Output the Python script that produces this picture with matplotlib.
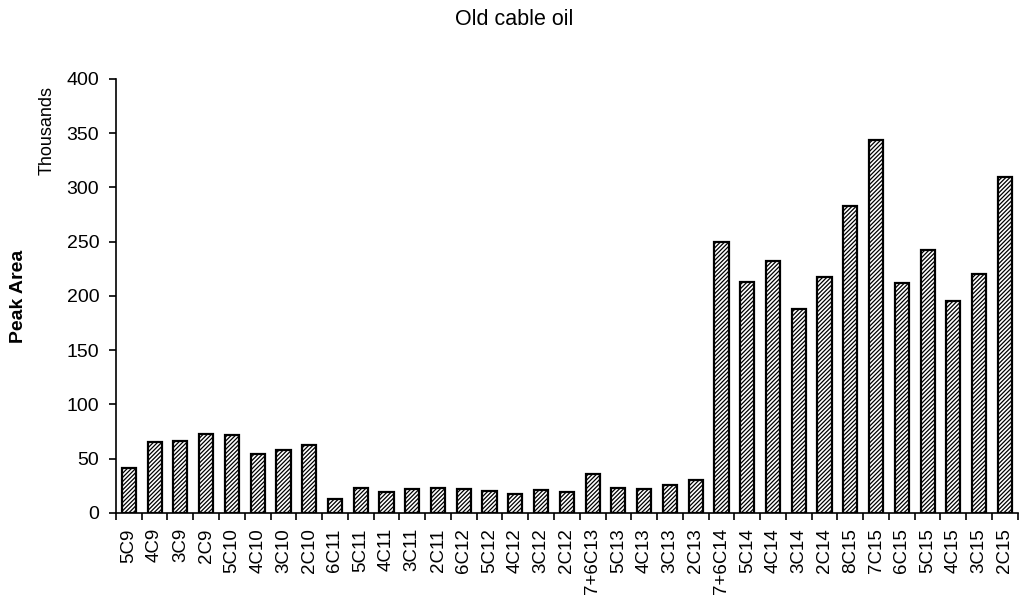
import numpy as np
import matplotlib.pyplot as plt

plt.rcParams['font.family'] = ['Liberation Sans', 'DejaVu Sans']
plt.rcParams['hatch.linewidth'] = 0.9

# --- datos ---
etiquetas = ['5C9', '4C9', '3C9', '2C9', '5C10', '4C10', '3C10', '2C10',
             '6C11', '5C11', '4C11', '3C11', '2C11',
             '6C12', '5C12', '4C12', '3C12', '2C12',
             '7+6C13', '5C13', '4C13', '3C13', '2C13',
             '7+6C14', '5C14', '4C14', '3C14', '2C14',
             '8C15', '7C15', '6C15', '5C15', '4C15', '3C15', '2C15']
valores = [41, 65, 66, 73, 72, 54, 58, 63,
           13, 23, 19, 22, 23,
           22, 20, 17, 21, 19,
           36, 23, 22, 26, 30,
           250, 213, 232, 188, 217,
           283, 344, 212, 242, 195, 220, 310]

x = np.arange(len(etiquetas))

fig = plt.figure(figsize=(10.19, 6.02), dpi=100)
ax = fig.add_axes([0.1138, 0.148, 0.885, 0.721])

ax.bar(x, valores, width=0.55, color='white', edgecolor='black',
       linewidth=1.6, hatch='////////')

ax.set_xlim(-0.5, len(etiquetas) - 0.5)
ax.set_ylim(0, 400)
ax.set_yticks(np.arange(0, 401, 50))
ax.set_xticks(x)
ax.set_xticklabels(etiquetas, rotation=90, fontsize=13.5)
ax.tick_params(axis='x', length=0, pad=11)
ax.set_xticks(np.arange(-0.5, len(etiquetas), 1), minor=True)
ax.tick_params(axis='x', which='minor', length=5, width=1.2, direction='out')
ax.tick_params(axis='y', labelsize=14, length=5, width=1.2, pad=7, direction='out')

ax.spines['top'].set_visible(False)
ax.spines['right'].set_visible(False)
ax.spines['left'].set_linewidth(1.2)
ax.spines['bottom'].set_linewidth(1.2)

fig.text(0.505, 0.968, 'Old cable oil', ha='center', va='center', fontsize=15.5)
fig.text(0.046, 0.784, 'Thousands', rotation=90, ha='center', va='center', fontsize=13)
fig.text(0.018, 0.507, 'Peak Area', rotation=90, ha='center', va='center',
         fontsize=14, fontweight='bold')

fig.savefig('out.png', dpi=100)
